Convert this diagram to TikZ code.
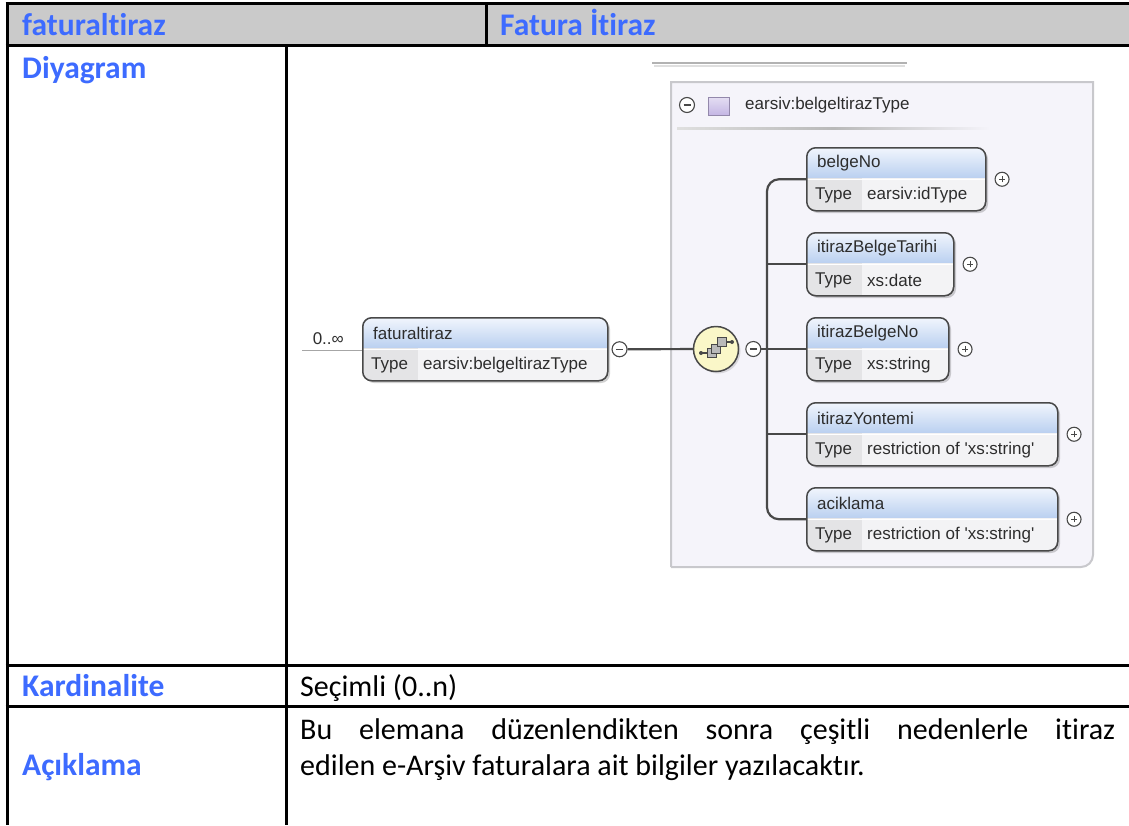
\documentclass[tikz,border=0pt]{standalone}
\usepackage{fontspec}
\setmainfont{Carlito}[Ligatures=NoCommon]
\newfontfamily\xsdfont{Liberation Sans}
\usetikzlibrary{positioning,calc,shadows}

\definecolor{hdrblue}{RGB}{61,107,255}
\definecolor{hdrgray}{RGB}{202,202,202}
\definecolor{xsdline}{RGB}{72,72,72}
\definecolor{xsdtxt}{RGB}{45,45,45}
\definecolor{cboxfill}{RGB}{245,244,250}
\definecolor{cboxline}{RGB}{200,200,204}
\definecolor{bandtop}{RGB}{242,246,253}
\definecolor{bandbot}{RGB}{186,208,240}
\definecolor{typecell}{RGB}{228,228,230}
\definecolor{valcell}{RGB}{243,243,245}
\definecolor{seqfill}{RGB}{250,247,200}
\definecolor{lilac}{RGB}{196,182,228}

% element box: name, left, top, width, title, type
\newcommand{\xsdelem}[6]{%
  \fill[black, opacity=0.18, rounded corners=9pt] (#2+3,#3+3) rectangle ++(#4,63);
  \begin{scope}
    \clip[rounded corners=9pt] (#2,#3) rectangle ++(#4,63);
    \shade[top color=bandtop, bottom color=bandbot] (#2,#3) rectangle ++(#4,31);
    \fill[typecell] (#2,#3+31) rectangle ++(56,32);
    \fill[valcell] (#2+56,#3+31) rectangle ++(#4-56,32);
    \draw[white, line width=1pt] (#2,#3+32) -- ++(#4,0);
  \end{scope}
  \node[elembox, minimum width=#4, minimum height=63, anchor=north west] (#1) at (#2,#3) {};
  \node[xsdlabel, anchor=west] (#1Name) at ($(#1.north west)+(11,16)$) {#5};
  \node[xsdlabel, anchor=west] (#1Type) at ($(#1.west)+(9,16)$) {Type};
  \node[xsdlabel, anchor=west] (#1Val) at ($(#1.west)+(61,16)$) {#6};
}

\begin{document}
\begin{tikzpicture}[x=1pt, y=-1pt,
    tblline/.style={black, line width=3pt},
    hdrtext/.style={font=\bfseries\fontsize{31.5}{36}\selectfont, text=hdrblue, inner sep=0pt},
    bodytext/.style={font=\fontsize{30}{36}\selectfont, text=black, inner sep=0pt},
    xsdlabel/.style={font=\xsdfont\fontsize{17}{20}\selectfont, text=xsdtxt, inner sep=0pt},
    elembox/.style={draw=xsdline, line width=1.5pt, rounded corners=9pt, inner sep=0pt},
    conn/.style={draw=xsdline, line width=2.2pt},
    xsdbtn/.style={circle, draw=xsdline, fill=white, line width=1.1pt, minimum size=14pt, inner sep=0pt},
    minusbtn/.style={xsdbtn, minimum size=15pt, path picture={\draw[xsdline, line width=1.2pt]
        ([xshift=-3.5pt]path picture bounding box.center) -- ([xshift=3.5pt]path picture bounding box.center);}},
    plusbtn/.style={xsdbtn, path picture={\draw[xsdline, line width=1pt]
        ([xshift=-3pt]path picture bounding box.center) -- ([xshift=3pt]path picture bounding box.center)
        ([yshift=-3pt]path picture bounding box.center) -- ([yshift=3pt]path picture bounding box.center);}}]
  \tikzstyle{seqnode}=[circle, draw=xsdline, fill=seqfill, line width=1.5pt, minimum size=45pt,
                       inner sep=0pt, drop shadow={shadow xshift=2pt, shadow yshift=-2pt, opacity=0.25}]
  \tikzstyle{sqicon}=[draw=xsdline, fill=gray!55, line width=0.9pt]

  \useasboundingbox (0,0) rectangle (1129,825);
  \fill[white] (0,0) rectangle (1129,825);

  % table
  \fill[hdrgray] (7,3.5) rectangle (1129,45);
  \draw[tblline] (5.5,3.5) -- (1129,3.5);
  \draw[tblline] (5.5,45) -- (1129,45);
  \draw[tblline] (5.5,665) -- (1129,665);
  \draw[tblline] (5.5,706.5) -- (1129,706.5);
  \draw[tblline] (7,2) -- (7,825);
  \draw[tblline] (486,3.5) -- (486,45);
  \draw[tblline] (286.5,45) -- (286.5,825);

  \node[hdrtext, anchor=base west] (hdrName) at (22,35) {faturaltiraz};
  \node[hdrtext, anchor=base west] (hdrTitle) at (500,35) {Fatura İtiraz};
  \node[hdrtext, anchor=base west] (rowDiag) at (22,78) {Diyagram};
  \node[hdrtext, anchor=base west] (rowCard) at (22,696) {Kardinalite};
  \node[hdrtext, anchor=base west] (rowDesc) at (22,775) {Açıklama};
  \node[bodytext, anchor=base west] (cardVal) at (300,696) {Seçimli (0..n)};
  \node[bodytext, anchor=base west] (descA) at (300,739)
       {\makebox[815pt][s]{Bu elemana düzenlendikten sonra çeşitli nedenlerle itiraz}};
  \node[bodytext, anchor=base west] (descB) at (300,775)
       {edilen e-Arşiv faturalara ait bilgiler yazılacaktır.};

  % diagram
  \draw[gray!25, line width=2pt] (654,65.5) -- (905,65.5);
  \draw[gray!60, line width=1.3pt] (652,63) -- (907,63);

  \draw[cboxline, fill=cboxfill, line width=2pt] (671,567) -- (671,82) -- (1093,82) -- (1093,300)
       [rounded corners=12pt] -- (1093,567) -- (671,567);
  \node[minusbtn] (typeMinus) at (687,105) {};
  \shade[top color=lilac!45, bottom color=lilac, draw=lilac!75!black] (708,97) rectangle (729,115);
  \node[xsdlabel, anchor=west] (typeName) at (745,105) {earsiv:belgeltirazType};
  \shade[left color=gray!25, right color=cboxfill, middle color=gray!55] (677,127) rectangle (990,129.5);

  \draw[gray!70, line width=1pt] (302,350) -- (362,350);
  \node[xsdlabel, anchor=east] (card) at (344,339) {0..∞};
  \xsdelem{faturaltiraz}{362}{317}{245}{faturaltiraz}{earsiv:belgeltirazType}
  \node[minusbtn, right=3pt of faturaltiraz] (fatMinus) {};

  \node[seqnode] (seq) at (716,349) {};
  \begin{scope}[shift={(seq.center)}]
    \draw[xsdline, line width=1.1pt] (-15,4) -- (-9,4) (10,-7) -- (16,-7);
    \fill[xsdline] (-15,4) circle (2pt) (16,-7) circle (2pt);
    \draw[sqicon] (-9,-0.5) rectangle (0,8.5);
    \draw[sqicon] (-4.5,-5) rectangle (4.5,4);
    \draw[sqicon] (1,-11.5) rectangle (10,-2.5);
  \end{scope}
  \node[minusbtn, right=6pt of seq] (seqMinus) {};
  \coordinate (bus) at (767,349);

  \foreach \nm/\w/\ty [count=\i from 0] in {belgeNo/179/earsiv:idType, itirazBelgeTarihi/147/xs:date,
      itirazBelgeNo/142/xs:string, itirazYontemi/251/restriction of 'xs:string',
      aciklama/251/restriction of 'xs:string'}
  {
    \xsdelem{\nm}{806}{147+\i*85}{\w}{\nm}{\ty}
    \node[plusbtn, right=8pt of \nm] (\nm Plus) {};
  }

  \draw[conn] (fatMinus) -- (seq);
  \draw[conn] (seqMinus) -- (bus);
  \draw[conn, rounded corners=12pt] (belgeNo.west) -| (bus) |- (aciklama.west);
  \foreach \nm in {itirazBelgeTarihi, itirazBelgeNo, itirazYontemi}
    \draw[conn] (bus |- \nm.west) -- (\nm.west);
\end{tikzpicture}
\end{document}
